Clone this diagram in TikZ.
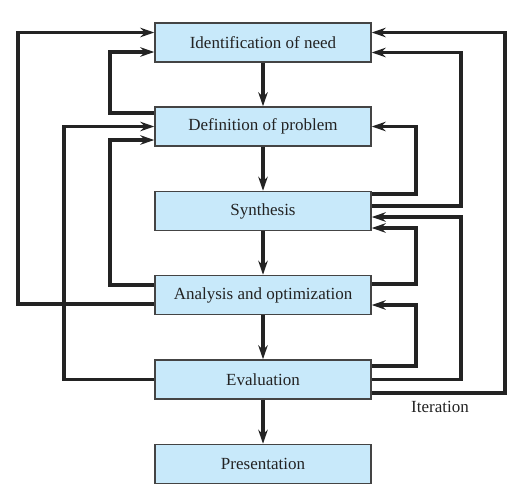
\documentclass[tikz,border=0pt]{standalone}
\usepackage{fontspec}
\setmainfont{Liberation Serif}
\usetikzlibrary{arrows.meta}
\definecolor{boxfill}{RGB}{200,233,250}
\definecolor{ink}{RGB}{35,35,35}
\begin{document}
\begin{tikzpicture}[x=1pt,y=-1pt,
  stage/.style={draw=ink!85,line width=1.5pt,fill=boxfill,minimum width=216pt,minimum height=39pt,inner sep=0pt,font=\fontsize{17}{19}\selectfont,text=ink},
  conn/.style={draw=ink,line width=3.2pt,-{Stealth[length=14pt,width=9.5pt]}},
  flow/.style={draw=ink,line width=3.2pt,-{Stealth[length=14pt,width=9.5pt]}}]
\useasboundingbox (0,0) rectangle (515,496);
\node[stage] (ident) at (263,42.5) {Identification of need};
\node[stage] (def) at (263,126.5) {Definition of problem};
\node[stage] (syn) at (263,211) {Synthesis};
\node[stage] (ana) at (263,295) {Analysis and optimization};
\node[stage] (eva) at (263,379.5) {Evaluation};
\node[stage] (pres) at (263,464) {Presentation};
% main flow
\draw[flow] (ident) -- (def);
\draw[flow] (def) -- (syn);
\draw[flow] (syn) -- (ana);
\draw[flow] (ana) -- (eva);
\draw[flow] (eva) -- (pres);
% left feedback
\draw[conn] ([yshift=-9pt]ana.west) -| (18,200) |- ([yshift=10pt]ident.west);
\draw[conn] ([yshift=13.5pt]def.west) -| (110,80) |- ([yshift=-9.5pt]ident.west);
\draw[conn] (eva.west) -| (64,250) |- (def.west);
\draw[conn] ([yshift=10pt]ana.west) -| (110,200) |- ([yshift=-13.5pt]def.west);
% right feedback
\draw[conn] ([yshift=-13.5pt]eva.east) -| (505,200) |- ([yshift=10pt]ident.east);
\draw[conn] ([yshift=5pt]syn.east) -| (461,100) |- ([yshift=-10pt]ident.east);
\draw[conn] ([yshift=17pt]syn.east) -| (416,150) |- (def.east);
\draw[conn] (eva.east) -| (461,300) |- ([yshift=-6pt]syn.east);
\draw[conn] ([yshift=11pt]ana.east) -| (416,250) |- ([yshift=-17pt]syn.east);
\draw[conn] ([yshift=13.5pt]eva.east) -| (416,340) |- ([yshift=-10pt]ana.east);
\node[font=\fontsize{17}{19}\selectfont,text=ink] (iter) at (440,407) {Iteration};
\end{tikzpicture}
\end{document}
